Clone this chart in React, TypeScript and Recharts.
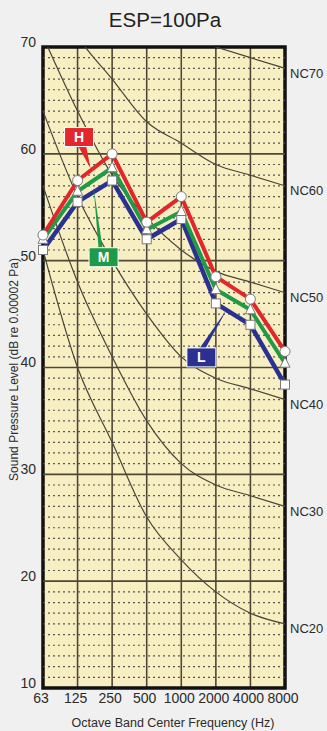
import React from "react";
import { LineChart, Line, XAxis, YAxis, CartesianGrid, ReferenceLine, ReferenceArea } from "recharts";

const freqs = ["63", "125", "250", "500", "1000", "2000", "4000", "8000"];

// measured levels, dB
const highDb = [52.4, 57.5, 60.0, 53.6, 56.0, 48.5, 46.4, 41.5];
const midDb = [52.0, 56.5, 58.7, 52.9, 54.6, 47.3, 45.4, 40.4];
const lowDb = [51.0, 55.5, 57.5, 52.0, 53.9, 46.0, 44.0, 38.4];

// NC reference curves
const nc70 = [83, 79, 75, 72, 71, 70, 69, 68];
const nc60 = [77, 71, 67, 63, 61, 59, 58, 57];
const nc50 = [71, 64, 58, 54, 51, 49, 48, 47];
const nc40 = [64, 56, 50, 45, 41, 39, 38, 37];
const nc30 = [57, 48, 41, 35, 31, 29, 28, 27];
const nc20 = [51, 40, 33, 26, 22, 19, 17, 16];

const yTicks = [10, 20, 30, 40, 50, 60, 70];
const majorDb = [20, 30, 40, 50, 60];
const minorDb = Array.from({ length: 61 }, (_, k) => 10 + k).filter(v => v % 10 !== 0);

const ncCurves = [
  { key: "nc70", name: "NC70", values: nc70 },
  { key: "nc60", name: "NC60", values: nc60 },
  { key: "nc50", name: "NC50", values: nc50 },
  { key: "nc40", name: "NC40", values: nc40 },
  { key: "nc30", name: "NC30", values: nc30 },
  { key: "nc20", name: "NC20", values: nc20 },
];

const data = freqs.map((f, i) => {
  const row: Record<string, number | string> = { i, f, H: highDb[i], M: midDb[i], L: lowDb[i] };
  ncCurves.forEach(c => { row[c.key] = c.values[i]; });
  return row;
});

const FONT = "'Liberation Sans', Arial, sans-serif";
const RED = "#e2262b";
const GREEN = "#1f9a48";
const NAVY = "#2a3191";
const GRID = "#4f4736";
const TEXT = "#2b2b2b";

const CircleDot = (p: any) => (
  <circle key={`c${p.index}`} cx={p.cx} cy={p.cy} r={5} fill="#fff" stroke="#7a7a7a" strokeWidth={1} />
);
const TriDot = (p: any) => (
  <polygon key={`t${p.index}`} points={`${p.cx},${p.cy - 6} ${p.cx - 5},${p.cy + 4} ${p.cx + 5},${p.cy + 4}`} fill="#fff" stroke="#7a7a7a" strokeWidth={1} />
);
const SquareDot = (p: any) => (
  <rect key={`s${p.index}`} x={p.cx - 4.5} y={p.cy - 4.5} width={9} height={9} fill="#fff" stroke="#7a7a7a" strokeWidth={1} />
);

function callout(letter: string, at: number, color: string, box: [number, number], tip: [number, number], base: [number, number]) {
  return (p: any) => {
    if (p.index !== at || p.x == null) return null;
    const bx = p.x + box[0];
    const by = p.y + box[1];
    const tx = p.x + tip[0];
    const ty = p.y + tip[1];
    const baseY = tip[1] < box[1] ? by - 9 : by + 9;
    return (
      <g key={`co-${letter}`}>
        <polygon points={`${bx + base[0]},${baseY} ${bx + base[1]},${baseY} ${tx},${ty}`} fill={color} />
        <rect x={bx - 14.5} y={by - 9.5} width={29} height={19} fill={color} stroke="#fff" strokeWidth={1} />
        <text x={bx} y={by} dy="0.36em" textAnchor="middle" fill="#fff" fontSize={14} fontWeight="bold" fontFamily={FONT}>
          {letter}
        </text>
      </g>
    );
  };
}

const ncLabel = (name: string) => (p: any) => {
  if (p.index !== freqs.length - 1) return null;
  return (
    <text key={`l-${name}`} x={p.x + 5} y={p.y + 5} dy="0.35em" fill={TEXT} fontSize={13} fontFamily={FONT}>
      {name}
    </text>
  );
};

const XTick = (p: any) => (
  <text x={p.x - 2} y={p.y} dy="0.71em" textAnchor="middle" fill={TEXT} fontSize={14} fontFamily={FONT}>
    {freqs[p.payload.value]}
  </text>
);

const YTick = (p: any) => (
  <text x={p.x} y={p.y - 5} dy="0.35em" textAnchor="end" fill={TEXT} fontSize={14} fontFamily={FONT}>
    {p.payload.value}
  </text>
);

export default function App() {
  return (
    <div style={{ position: "relative", width: 327, height: 731, background: "#f0f0f0", fontFamily: FONT }}>
      <style>{"body{margin:0}"}</style>
      <div style={{ position: "absolute", top: 8, left: 0, width: 330, textAlign: "center", fontSize: 20.5, color: "#222" }}>
        ESP=100Pa
      </div>
      <div style={{ position: "absolute", top: 0, left: 0 }}>
        <LineChart width={327} height={731} data={data} margin={{ top: 47, right: 42, bottom: 0, left: 0 }}>
          <CartesianGrid horizontal={false} stroke={GRID} strokeWidth={1.6} fill="#f7efc2" fillOpacity={1} />
          <XAxis
            type="number"
            dataKey="i"
            domain={[0, 7]}
            ticks={freqs.map((_, i) => i)}
            interval={0}
            height={43}
            axisLine={false}
            tickLine={false}
            tickSize={0}
            tickMargin={5}
            tick={XTick}
            label={(p: any) => {
              const vb = p.viewBox || { x: 43, y: 688, width: 242 };
              return (
                <text x={vb.x + vb.width / 2 + 9} y={vb.y + 35} dy="0.35em" textAnchor="middle" fill={TEXT} fontSize={12.5} fontFamily={FONT}>
                  Octave Band Center Frequency (Hz)
                </text>
              );
            }}
          />
          <YAxis
            domain={[10, 70]}
            ticks={yTicks}
            allowDataOverflow
            width={43}
            axisLine={false}
            tickLine={false}
            tickSize={0}
            tickMargin={7}
            tick={YTick}
            label={(p: any) => {
              const vb = p.viewBox || { y: 47, height: 641 };
              const cy = vb.y + vb.height / 2 + 2;
              return (
                <text x={14} y={cy} dy="0.35em" textAnchor="middle" transform={`rotate(-90 14 ${cy})`} fill={TEXT} fontSize={12} fontFamily={FONT}>
                  Sound Pressure Level (dB re 0.00002 Pa)
                </text>
              );
            }}
          />
          <YAxis yAxisId="d" hide domain={[10, 70]} />
          {minorDb.map(v => (
            <ReferenceLine key={`mn${v}`} y={v} stroke="#555" strokeWidth={1.2} strokeDasharray="2 3" />
          ))}
          {majorDb.map(v => (
            <ReferenceLine key={`mj${v}`} y={v} stroke={GRID} strokeWidth={1.6} />
          ))}
          {ncCurves.map(c => (
            <Line
              key={c.key}
              type="monotone"
              dataKey={c.key}
              stroke="#4a4438"
              strokeWidth={1.2}
              dot={false}
              activeDot={false}
              isAnimationActive={false}
              label={ncLabel(c.name)}
            />
          ))}
          <ReferenceArea x1={0} x2={7} y1={10} y2={70} fill="none" fillOpacity={0} stroke="#111" strokeWidth={3.5} />
          <Line yAxisId="d" type="linear" dataKey="L" stroke={NAVY} strokeWidth={4.5} dot={SquareDot} activeDot={false}
            isAnimationActive={false} label={callout("L", 5, NAVY, [-14.5, 54], [11, 6], [-2, 4])} />
          <Line yAxisId="d" type="linear" dataKey="M" stroke={GREEN} strokeWidth={4} dot={TriDot} activeDot={false}
            isAnimationActive={false} label={callout("M", 1, GREEN, [26, 66], [16, -4], [-5, -1])} />
          <Line yAxisId="d" type="linear" dataKey="H" stroke={RED} strokeWidth={4} dot={CircleDot} activeDot={false}
            isAnimationActive={false} label={callout("H", 1, RED, [1.5, -43.5], [13, -12], [-1, 7])} />
        </LineChart>
      </div>
    </div>
  );
}
